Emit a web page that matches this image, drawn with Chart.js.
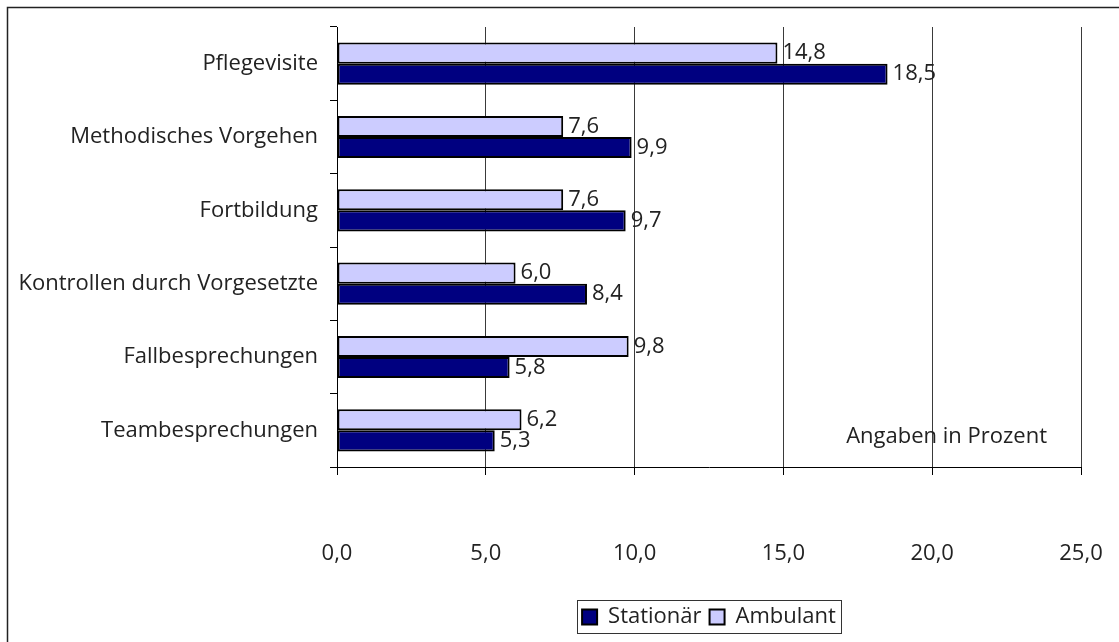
<!DOCTYPE html>
<html>
<head>
<meta charset="utf-8">
<script src="https://cdn.jsdelivr.net/npm/chart.js@4/dist/chart.umd.min.js"></script>
<style>
  html, body { margin: 0; padding: 0; background: #fff; }
  #wrap { width: 1119px; height: 642px; position: relative; }
</style>
</head>
<body>
<div id="wrap"><canvas id="chart" width="1119" height="642"></canvas></div>
<script>
const Categories = ['Pflegevisite', 'Methodisches Vorgehen', 'Fortbildung', 'Kontrollen durch Vorgesetzte', 'Fallbesprechungen', 'Teambesprechungen'];
const Ambulant = [14.8, 7.6, 7.6, 6.0, 9.8, 6.2];
const Stationaer = [18.5, 9.9, 9.7, 8.4, 5.8, 5.3];
const XTicks = [0, 5, 10, 15, 20, 25];
const Note = 'Angaben in Prozent';
const FontName = '"Open Sans", "Noto Sans", sans-serif';
const FontSize = 22;

const fmt = (v) => v.toFixed(1).replace('.', ',');

// outer frame, bar labels, note and legend border
const extras = {
    id: 'extras',
    beforeDraw(chart) {
        const ctx = chart.ctx;
        ctx.save();
        ctx.strokeStyle = '#222';
        ctx.lineWidth = 1.5;
        ctx.strokeRect(7.5, 7.5, 1300, 1300);
        ctx.restore();
    },
    afterDatasetsDraw(chart) {
        const ctx = chart.ctx;
        ctx.save();
        ctx.font = FontSize + 'px ' + FontName;
        ctx.fillStyle = '#222';
        ctx.textBaseline = 'middle';
        ctx.textAlign = 'left';
        chart.data.datasets.forEach((ds, i) => {
            const meta = chart.getDatasetMeta(i);
            meta.data.forEach((bar, j) => {
                ctx.fillText(fmt(ds.data[j]), bar.x + 5, bar.y);
            });
        });
        const area = chart.chartArea;
        ctx.textAlign = 'right';
        ctx.fillText(Note, area.right - 34, area.bottom - 30);
        ctx.restore();
    },
    afterDraw(chart) {
        const boxes = chart.legend.legendHitBoxes;
        if (!boxes || !boxes.length) return;
        let l = Infinity, r = -Infinity, t = Infinity, b = -Infinity;
        boxes.forEach(h => {
            l = Math.min(l, h.left); r = Math.max(r, h.left + h.width);
            t = Math.min(t, h.top); b = Math.max(b, h.top + h.height);
        });
        const ctx = chart.ctx;
        ctx.save();
        ctx.strokeStyle = '#333';
        ctx.lineWidth = 1;
        ctx.strokeRect(Math.round(l) - 4.5, Math.round(t) - 5.5, Math.round(r - l) + 10, Math.round(b - t) + 11);
        ctx.restore();
    }
};

const ChartData = {
    labels: Categories,
    datasets: [
        {
            label: 'Ambulant',
            data: Ambulant,
            backgroundColor: '#ccccff',
            borderColor: '#000000',
            borderWidth: 2,
            borderSkipped: false
        },
        {
            label: 'Stationär',
            data: Stationaer,
            backgroundColor: '#000080',
            borderColor: '#000000',
            borderWidth: 2,
            borderSkipped: false
        }
    ]
};

const ChartConfig = {
    type: 'bar',
    data: ChartData,
    options: {
        indexAxis: 'y',
        responsive: false,
        animation: false,
        layout: { padding: { top: 27, right: 38, bottom: 4, left: 0 } },
        datasets: {
            bar: { categoryPercentage: 0.575, barPercentage: 1.0 }
        },
        scales: {
            x: {
                min: 0,
                max: 25,
                afterBuildTicks: (scale) => { scale.ticks = XTicks.map(v => ({ value: v })); },
                afterFit: (scale) => { scale.height = 131; },
                ticks: {
                    // two empty lines push the numbers well below the axis
                    callback: (v) => ['', '', fmt(v)],
                    font: { family: FontName, size: FontSize, lineHeight: 1.2 },
                    color: '#222',
                    padding: 13,
                    maxRotation: 0
                },
                grid: {
                    color: '#3a3a3a',
                    lineWidth: 1,
                    drawTicks: true,
                    tickLength: 8,
                    tickColor: '#000'
                },
                border: { color: '#000', width: 1 }
            },
            y: {
                afterFit: (scale) => { scale.width = 337; },
                ticks: {
                    font: { family: FontName, size: FontSize },
                    color: '#222',
                    padding: 12
                },
                grid: {
                    offset: true,
                    drawOnChartArea: false,
                    drawTicks: true,
                    tickLength: 7,
                    tickColor: '#000'
                },
                border: { color: '#000', width: 1 }
            }
        },
        plugins: {
            tooltip: { enabled: false },
            legend: {
                position: 'bottom',
                fullSize: false,
                labels: {
                    font: { family: FontName, size: FontSize },
                    color: '#222',
                    boxWidth: 15,
                    boxHeight: 15,
                    padding: 8,
                    sort: (a, b) => b.datasetIndex - a.datasetIndex
                }
            }
        }
    },
    plugins: [extras]
};

document.addEventListener('DOMContentLoaded', () => {
    const ctx = document.getElementById('chart').getContext('2d');
    new Chart(ctx, ChartConfig);
});
</script>
</body>
</html>
